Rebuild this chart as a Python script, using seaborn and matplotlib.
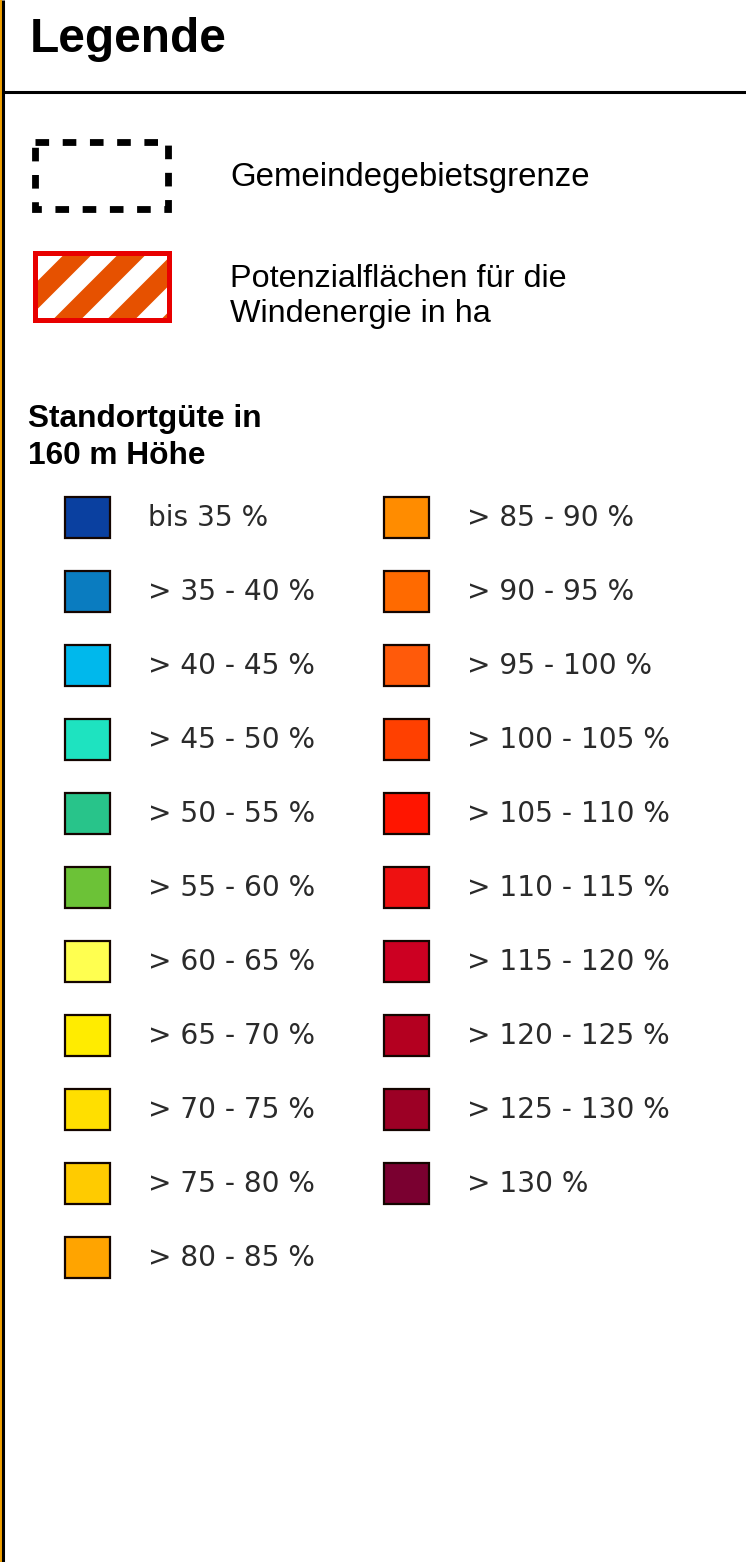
import numpy as np
import matplotlib
matplotlib.use("Agg")
import matplotlib.pyplot as plt
import seaborn as sns
from matplotlib.patches import Rectangle, Polygon

# ---------------- data ----------------
title = "Legende"
boundary_label = "Gemeindegebietsgrenze"
potential_lines = ["Potenzialflächen für die", "Windenergie in ha"]
section_lines = ["Standortgüte in", "160 m Höhe"]

left_labels = ["bis 35 %", "> 35 - 40 %", "> 40 - 45 %", "> 45 - 50 %", "> 50 - 55 %",
               "> 55 - 60 %", "> 60 - 65 %", "> 65 - 70 %", "> 70 - 75 %", "> 75 - 80 %",
               "> 80 - 85 %"]
left_colors = ["#0a40a0", "#0a7cc0", "#00b8ec", "#1ee3c0", "#28c48a",
               "#6cc237", "#ffff50", "#ffec00", "#ffdf00", "#ffcb00",
               "#ffa400"]
right_labels = ["> 85 - 90 %", "> 90 - 95 %", "> 95 - 100 %", "> 100 - 105 %", "> 105 - 110 %",
                "> 110 - 115 %", "> 115 - 120 %", "> 120 - 125 %", "> 125 - 130 %", "> 130 %"]
right_colors = ["#ff8c00", "#ff6a00", "#ff5a0a", "#ff4000", "#ff1500",
                "#ee1111", "#cc0022", "#b40020", "#9c0025", "#7a0030"]

# ---------------- style ----------------
sns.set_theme(style="white")
plt.rcParams["font.family"] = ["Liberation Sans", "DejaVu Sans"]

W, H = 746, 1562
fig = plt.figure(figsize=(W / 100, H / 100), dpi=100)
ax = fig.add_axes([0, 0, 1, 1])
ax.set_xlim(0, W)
ax.set_ylim(H, 0)
ax.axis("off")

# frame lines (left edge with map strip, header divider)
ax.add_patch(Rectangle((0, 0), 1.5, H, color="#f0a000", lw=0, zorder=1))
ax.plot([2.5, 2.5], [0, H], color="black", lw=2.2, solid_capstyle="butt")
ax.plot([2.5, W], [91.5, 91.5], color="black", lw=2.2, solid_capstyle="butt")

# title
ax.text(30, 52, title, fontsize=34.5, fontweight="bold", va="baseline", ha="left", color="black")

# dashed municipal boundary symbol
ax.add_patch(Rectangle((34.5, 141.5), 133, 67, fill=False, edgecolor="black",
                       lw=4.9, linestyle=(0, (2.0, 2.0)), capstyle="butt", joinstyle="miter"))
ax.text(230, 186, boundary_label, fontsize=23.8, va="baseline", ha="left", color="black")

# hatched potential area symbol
rx0, ry0, rw, rh = 34.5, 252.5, 134, 67
clip = Rectangle((rx0, ry0), rw, rh, transform=ax.transData, fill=False, lw=0)
ax.add_patch(clip)
period = 54
stripe = 28
ybot = ry0 + rh
for k in range(-3, 6):
    u0 = 53 + k * period
    poly = Polygon([(u0 - 20, ybot + 20), (u0 + stripe - 20, ybot + 20),
                    (u0 + stripe + rh + 20, ybot - rh - 20), (u0 + rh + 20, ybot - rh - 20)],
                   closed=True, facecolor="#e65100", edgecolor="none", zorder=2)
    ax.add_patch(poly)
    poly.set_clip_path(clip)
ax.add_patch(Rectangle((rx0, ry0), rw, rh, fill=False, edgecolor="#e80000", lw=3.6, zorder=3))
for i, line in enumerate(potential_lines):
    ax.text(230, 287 + 35 * i, line, fontsize=23.3, va="baseline", ha="left", color="black")

# section title
for i, line in enumerate(section_lines):
    ax.text(28, 427 + 37 * i, line, fontsize=22.8, fontweight="bold", va="baseline",
            ha="left", color="black")

# colour classes
y0, step = 517, 74.0
sq_w, sq_h = 45, 41

def draw_column(labels, colors, xc, xt):
    ys = y0 + step * np.arange(len(labels))
    ax.bar(np.full(len(labels), xc), np.full(len(labels), sq_h), width=sq_w,
           bottom=ys - sq_h / 2, color=colors, edgecolor="#140500", linewidth=1.6, zorder=3)
    for y, lab in zip(ys, labels):
        ax.text(xt, y + 9, lab, fontsize=20.2, va="baseline", ha="left", color="#2a2a2a",
                family=["DejaVu Sans"])

draw_column(left_labels, left_colors, 87, 148)
draw_column(right_labels, right_colors, 406, 467)

fig.savefig("out.png", dpi=100, facecolor="white")
